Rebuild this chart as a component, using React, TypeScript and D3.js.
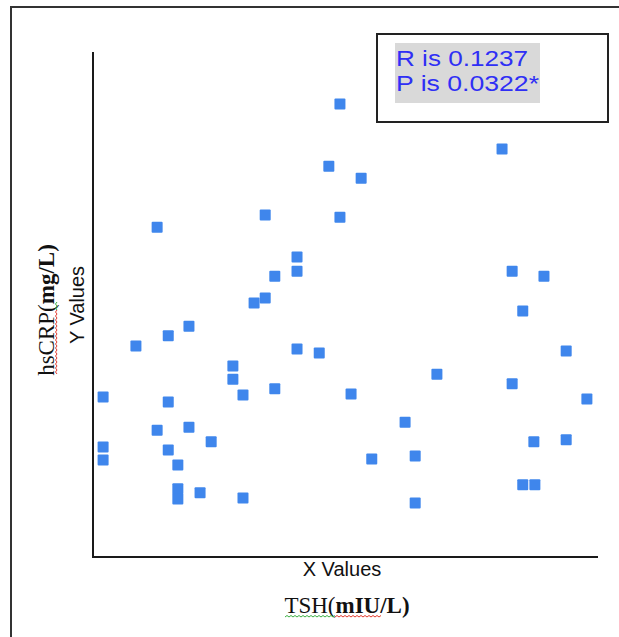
import * as React from 'react';
import * as d3 from 'd3';

// TSH (x) and hsCRP (y), in axis units 0..100
const tshValues = [48.9, 46.7, 34.1, 48.9, 12.7, 40.4, 40.4, 36.0, 34.1, 31.9,
  19.0, 14.9, 8.5, 40.4, 44.8, 27.7, 27.7, 2.0, 14.9, 29.7,
  36.0, 51.1, 12.7, 19.0, 23.4, 2.0, 2.0, 14.9, 16.8, 16.8,
  16.8, 21.2, 29.7, 81.0, 53.1, 83.0, 89.3, 85.1, 93.7, 68.1,
  83.0, 97.8, 61.8, 55.2, 63.8, 87.3, 93.7, 85.1, 87.5, 63.8];
const crpValues = [89.7, 77.4, 67.7, 67.3, 65.3, 59.4, 56.6, 55.6, 51.3, 50.3,
  45.7, 43.8, 41.8, 41.2, 40.4, 37.8, 35.2, 31.7, 30.7, 32.1,
  33.3, 32.3, 25.1, 25.7, 22.8, 21.8, 19.2, 21.2, 18.2, 13.5,
  11.5, 12.7, 11.7, 80.8, 75.0, 56.6, 55.6, 48.7, 40.8, 36.2,
  34.3, 31.3, 26.7, 19.4, 20.0, 22.8, 23.2, 14.3, 14.3, 10.7];
const statLines = ['R is 0.1237', 'P is 0.0322*'];

const width = 619;
const height = 637;
const plot = { left: 93, right: 598, top: 52, bottom: 557 };

export default function App() {
  const x = d3.scaleLinear().domain([0, 100]).range([plot.left, plot.right]);
  const y = d3.scaleLinear().domain([0, 100]).range([plot.bottom, plot.top]);
  const size = 11;
  const statWidths = [132, 143];

  return (
    <svg width={width} height={height}
      style={{ position: 'absolute', left: 0, top: 0, display: 'block', background: '#fff' }}>
      {/* outer frame, only top and left show */}
      <path d={`M11,${height} V7 H${width}`} fill="none" stroke="#333" strokeWidth={2} />

      {/* axes */}
      <path d={`M${plot.left},${plot.top} V${plot.bottom} H${plot.right}`}
        fill="none" stroke="#1a1a1a" strokeWidth={2} />

      {/* points */}
      <g fill="#3f86ec">
        {tshValues.map((v, i) => (
          <rect key={i} x={x(v) - size / 2} y={y(crpValues[i]) - size / 2}
            width={size} height={size} rx={1} />
        ))}
      </g>

      {/* stats box */}
      <rect x={377} y={34} width={231} height={88} fill="#fff" stroke="#222" strokeWidth={2} />
      <rect x={395} y={43} width={145} height={60} fill="#d9d9d9" />
      <g fontFamily="'Liberation Sans', Arial, sans-serif" fontSize={21.5} fill="#2f2ff5">
        {statLines.map((s, i) => (
          <text key={i} x={396} y={66 + i * 25} textLength={statWidths[i]}
            lengthAdjust="spacingAndGlyphs">{s}</text>
        ))}
      </g>

      {/* default axis titles */}
      <text x={342} y={576} textAnchor="middle" fontFamily="'Liberation Sans', Arial, sans-serif"
        fontSize={20} fill="#111">X Values</text>
      <text transform={translate(84, 305) + ' rotate(-90)'} textAnchor="middle"
        fontFamily="'Liberation Sans', Arial, sans-serif" fontSize={20} fill="#111">Y Values</text>

      {/* real axis titles */}
      <text x={347} y={613} textAnchor="middle" fontFamily="'Liberation Serif', 'Times New Roman', serif"
        fontSize={23} fill="#111">TSH(<tspan fontWeight="bold">mIU/L)</tspan></text>
      <path d={wavy(285, 335, 617)} fill="none" stroke="#3cb043" strokeWidth={1} />
      <path d={wavy(335, 382, 617)} fill="none" stroke="#e23a2e" strokeWidth={1} />

      <text transform={translate(54, 310) + ' rotate(-90)'} textAnchor="middle"
        fontFamily="'Liberation Serif', 'Times New Roman', serif" fontSize={23} fill="#111">
        hsCRP(<tspan fontWeight="bold">mg/L)</tspan></text>
      <path d={wavy(310, 374, 57)} transform={`rotate(-90) translate(${-684}, 0)`} fill="none" stroke="#e23a2e" strokeWidth={1} />
      <path d={wavy(302, 310, 57)} transform={`rotate(-90) translate(${-612}, 0)`} fill="none" stroke="#3cb043" strokeWidth={1} />
    </svg>
  );
}

// little spell-check squiggle between x0 and x1 at height yy
function wavy(x0: number, x1: number, yy: number) {
  let d = `M${x0},${yy}`;
  let up = true;
  for (let px = x0 + 2; px <= x1; px += 2) {
    d += ` L${px},${yy + (up ? -1.5 : 0)}`;
    up = !up;
  }
  return d;
}

function translate(x: number, y: number) {
  return `translate(${x}, ${y})`;
}
